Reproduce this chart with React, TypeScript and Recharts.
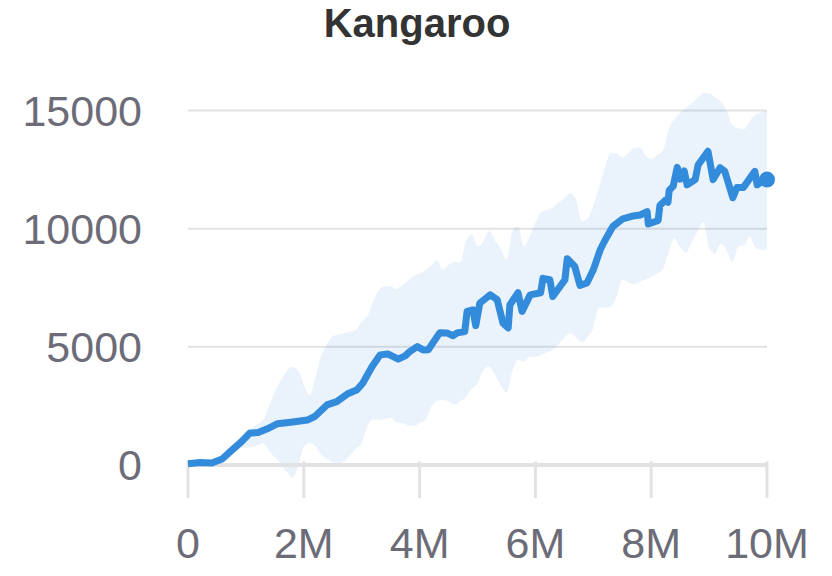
import React from "react";
import { ComposedChart, Area, Line, XAxis, YAxis, CartesianGrid, ReferenceLine, ReferenceDot } from "recharts";

// training steps in millions
const xTicks = [0, 2, 4, 6, 8, 10];
const yTicks = [0, 5000, 10000, 15000];
const gridValues = [5000, 10000, 15000];

// shaded band (min/max over seeds), sampled every 0.1M
const bandSteps = [
  0, 0.1, 0.2, 0.3, 0.4, 0.5, 0.6, 0.7, 0.8, 0.9,
  1, 1.1, 1.2, 1.3, 1.4, 1.5, 1.6, 1.7, 1.8, 1.9,
  2, 2.1, 2.2, 2.3, 2.4, 2.5, 2.6, 2.7, 2.8, 2.9,
  3, 3.1, 3.2, 3.3, 3.4, 3.5, 3.6, 3.7, 3.8, 3.9,
  4, 4.1, 4.2, 4.3, 4.4, 4.5, 4.6, 4.7, 4.8, 4.9,
  5, 5.1, 5.2, 5.3, 5.4, 5.5, 5.6, 5.7, 5.8, 5.9,
  6, 6.1, 6.2, 6.3, 6.4, 6.5, 6.6, 6.7, 6.8, 6.9,
  7, 7.1, 7.2, 7.3, 7.4, 7.5, 7.6, 7.7, 7.8, 7.9,
  8, 8.1, 8.2, 8.3, 8.4, 8.5, 8.6, 8.7, 8.8, 8.9,
  9, 9.1, 9.2, 9.3, 9.4, 9.5, 9.6, 9.7, 9.8, 9.9,
  10,
];
const bandUpper = [
  50, 60, 80, 90, 130, 250, 380, 560, 830, 1070,
  1290, 1540, 1730, 1920, 2500, 3090, 3560, 3960, 4150, 4010,
  3420, 2960, 3680, 4600, 5100, 5450, 5510, 5570, 5640, 5710,
  6080, 6310, 6940, 7400, 7570, 7560, 7440, 7600, 7820, 8000,
  8100, 8230, 8440, 8660, 8260, 8460, 8590, 8570, 9450, 9760,
  9250, 9450, 9900, 9500, 9150, 8700, 9870, 10100, 9250, 9670,
  10260, 10700, 10790, 10900, 11100, 11290, 11500, 11260, 10320, 10430,
  10980, 11740, 12580, 13200, 13180, 13020, 13200, 13420, 13440, 13100,
  12950, 13120, 13300, 14170, 14630, 14900, 15120, 15310, 15520, 15740,
  15720, 15560, 15400, 15000, 14400, 14260, 14200, 14550, 14820, 14920,
  15000,
];
const bandLower = [
  50, 80, 110, 140, 170, 190, 200, 420, 540, 700,
  730, 760, 830, 920, 600, 320, 50, -280, -530, -100,
  760, 930, 790, 440, 260, 110, 85, 170, 420, 690,
  930, 1640, 1940, 1900, 1950, 2000, 1800, 1780, 1680, 1650,
  1780, 1910, 2450, 2700, 2750, 2680, 2550, 2700, 2850, 3230,
  3440, 4000, 4170, 3830, 3380, 3060, 3950, 4440, 4380, 4580,
  4580, 4650, 4760, 4880, 5110, 5400, 5570, 5390, 5190, 5420,
  5800, 6650, 6670, 6700, 7100, 7830, 7730, 7650, 7740, 7850,
  7960, 8100, 8280, 9000, 9600, 9200, 8980, 9450, 9880, 10280,
  9200, 8950, 9350, 9100, 8580, 9230, 9300, 9650, 9200, 9110,
  9110,
];

// mean episode return
const lineSteps = [
  0, 0.21, 0.41, 0.59, 0.73, 0.9, 1.07, 1.21, 1.36, 1.54,
  1.81, 2.06, 2.19, 2.4, 2.57, 2.75, 2.92, 3.02, 3.18, 3.32,
  3.45, 3.63, 3.75, 3.83, 3.96, 4.06, 4.15, 4.35, 4.47, 4.58,
  4.65, 4.78, 4.82, 4.92, 4.97, 5.04, 5.22, 5.34, 5.44, 5.53,
  5.56, 5.7, 5.77, 5.91, 6.09, 6.13, 6.25, 6.3, 6.51, 6.55,
  6.68, 6.77, 6.89, 7.0, 7.12, 7.2, 7.34, 7.51, 7.69, 7.81,
  7.93, 7.95, 8.12, 8.15, 8.24, 8.29, 8.31, 8.38, 8.45, 8.5,
  8.57, 8.62, 8.76, 8.81, 8.98, 9.07, 9.19, 9.27, 9.41, 9.48,
  9.59, 9.79, 9.83, 9.91, 10,
];
const lineValues = [
  50, 100, 80, 250, 560, 930, 1350, 1370, 1520, 1740,
  1820, 1900, 2050, 2540, 2680, 3000, 3180, 3470, 4170, 4660,
  4700, 4480, 4620, 4800, 5010, 4870, 4880, 5600, 5590, 5470,
  5590, 5650, 6500, 6570, 5900, 6850, 7200, 7000, 6000, 5800,
  6780, 7290, 6500, 7200, 7290, 7900, 7840, 7130, 7840, 8730,
  8400, 7600, 7700, 8260, 9110, 9500, 10100, 10420, 10540, 10580,
  10720, 10200, 10350, 10980, 11200, 11120, 11620, 11800, 12600, 12100,
  12450, 11860, 12080, 12700, 13280, 12080, 12580, 12430, 11310, 11740,
  11740, 12430, 11860, 12000, 12080,
];

const BLUE = "#338bdb";
const AXIS_GREY = "#e2e2e4";
const LABEL = "#6c6c78";
const FONT = "'Liberation Sans', Arial, sans-serif";

const rows = [
  ...bandSteps.map((step, i) => ({ step, band: [bandLower[i], bandUpper[i]] })),
  ...lineSteps.map((step, i) => ({ step, mean: lineValues[i] })),
].sort((a, b) => a.step - b.step);

const lastStep = lineSteps[lineSteps.length - 1];
const lastValue = lineValues[lineValues.length - 1];

export default function App() {
  return (
    <div style={{ position: "absolute", left: 0, top: 0, width: 832, height: 576, background: "#fff", fontFamily: FONT }}>
      <div
        style={{
          position: "absolute",
          left: 0,
          top: 0,
          width: 834,
          textAlign: "center",
          fontSize: 40,
          lineHeight: "46px",
          fontWeight: "bold",
          color: "#333333",
        }}
      >
        Kangaroo
      </div>
      <ComposedChart width={832} height={576} data={rows} margin={{ top: 87, right: 65, bottom: 8, left: 0 }}>
        <CartesianGrid vertical={false} horizontalValues={gridValues} stroke={AXIS_GREY} strokeWidth={2} />
        <XAxis
          type="number"
          dataKey="step"
          domain={[0, 10]}
          ticks={xTicks}
          interval={0}
          axisLine={false}
          tickLine={false}
          tickSize={0}
          tickMargin={29}
          height={70}
          tick={{ fill: LABEL, fontSize: 43, fontFamily: FONT }}
          tickFormatter={(v: number) => (v === 0 ? "0" : `${v}M`)}
        />
        <YAxis
          type="number"
          domain={[-1400, 16000]}
          ticks={yTicks}
          interval={0}
          axisLine={false}
          tickLine={false}
          tickSize={0}
          tickMargin={46}
          width={188}
          tick={{ fill: LABEL, fontSize: 43, fontFamily: FONT }}
        />
        <Area
          dataKey="band"
          type="monotone"
          stroke="none"
          fill="#2f80d8"
          fillOpacity={0.1}
          connectNulls
          isAnimationActive={false}
        />
        <ReferenceLine y={0} stroke={AXIS_GREY} strokeWidth={4} />
        {xTicks.map((t) => (
          <ReferenceLine
            key={t}
            segment={[
              { x: t, y: 150 },
              { x: t, y: -1400 },
            ]}
            stroke={AXIS_GREY}
            strokeWidth={3}
          />
        ))}
        <Line
          dataKey="mean"
          type="linear"
          stroke={BLUE}
          strokeWidth={7}
          strokeLinejoin="round"
          dot={false}
          connectNulls
          isAnimationActive={false}
        />
        <ReferenceDot x={lastStep} y={lastValue} r={8} fill={BLUE} stroke="none" />
      </ComposedChart>
    </div>
  );
}
